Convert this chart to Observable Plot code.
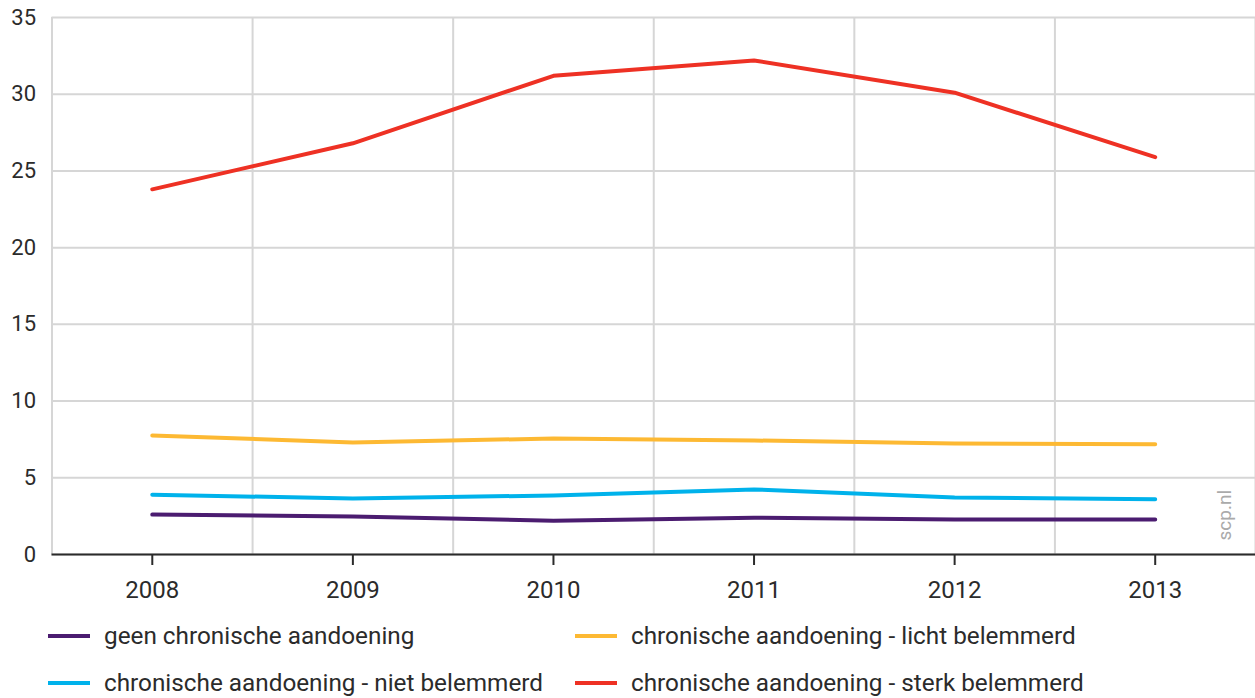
<!DOCTYPE html>
<html>
<head>
<meta charset="utf-8">
<script src="https://cdn.jsdelivr.net/npm/d3@7"></script>
<script src="https://cdn.jsdelivr.net/npm/@observablehq/plot@0.6"></script>
<style>
  body { margin: 0; background: #fff; font-family: Roboto, "Open Sans", sans-serif; color: #2b2b2b; }
  #legend { display: flex; flex-wrap: wrap; padding-left: 48px; margin-top: 0; }
  .item { width: 527px; height: 47px; display: flex; align-items: center; font-size: 24.3px; }
  .sw { width: 42px; height: 4px; margin-right: 14px; }
</style>
</head>
<body>
<div id="chart"></div>
<div id="legend"></div>
<script>
const years = [2008, 2009, 2010, 2011, 2012, 2013];
const seriesNames = [
  "geen chronische aandoening",
  "chronische aandoening - licht belemmerd",
  "chronische aandoening - niet belemmerd",
  "chronische aandoening - sterk belemmerd"
];
const colors = ["#4b1c70", "#fdb933", "#00b2eb", "#ee3124"];
const geen = [2.6, 2.48, 2.2, 2.4, 2.28, 2.28];
const licht = [7.76, 7.3, 7.56, 7.43, 7.24, 7.18];
const niet = [3.9, 3.65, 3.85, 4.24, 3.72, 3.6];
const sterk = [23.8, 26.8, 31.2, 32.2, 30.1, 25.9];
const yTicks = [0, 5, 10, 15, 20, 25, 30, 35];

const valuesBySeries = [geen, licht, niet, sterk];
const data = [];
seriesNames.forEach((s, i) => years.forEach((y, j) => data.push({year: y, value: valuesBySeries[i][j], series: s})));
const bandEdges = years.map(y => y - 0.5).concat([years[years.length - 1] + 0.5]);
const drawOrder = [seriesNames[3], seriesNames[1], seriesNames[2], seriesNames[0]];

const chart = Plot.plot({
  width: 1255,
  height: 612,
  marginLeft: 51.5,
  marginRight: 0,
  marginTop: 17,
  marginBottom: 58,
  style: {fontFamily: "Roboto, 'Open Sans', sans-serif", fontSize: "22px", color: "#2b2b2b", background: "#fff"},
  x: {domain: [years[0] - 0.5, years[years.length - 1] + 0.5]},
  y: {domain: [0, 35]},
  color: {domain: seriesNames, range: colors},
  marks: [
    Plot.gridY(yTicks, {stroke: "#d6d6d6", strokeOpacity: 1, strokeWidth: 2}),
    Plot.gridX(bandEdges, {stroke: "#d6d6d6", strokeOpacity: 1, strokeWidth: 2}),
    Plot.axisY(yTicks, {tickSize: 0, tickPadding: 16, fontSize: 22, label: null}),
    Plot.axisX(years, {tickSize: 11, tickPadding: 15, tickFormat: d => String(d), fontSize: 24, label: null, stroke: "#2b2b2b", strokeWidth: 2}),
    Plot.ruleY([0], {stroke: "#2b2b2b", strokeWidth: 2}),
    ...drawOrder.map(s => Plot.line(data.filter(d => d.series === s), {x: "year", y: "value", stroke: "series", strokeWidth: 4})),
    Plot.text(["scp.nl"], {frameAnchor: "bottom-right", rotate: -90, textAnchor: "start", dx: -25, dy: -14, fill: "#aaaaaa", fontSize: 19})
  ]
});
document.getElementById("chart").append(chart);

const legend = document.getElementById("legend");
const legendOrder = [0, 1, 2, 3];
legendOrder.forEach(i => {
  const it = document.createElement("div");
  it.className = "item";
  const sw = document.createElement("span");
  sw.className = "sw";
  sw.style.background = colors[i];
  const tx = document.createElement("span");
  tx.textContent = seriesNames[i];
  it.append(sw, tx);
  legend.append(it);
});
</script>
</body>
</html>
